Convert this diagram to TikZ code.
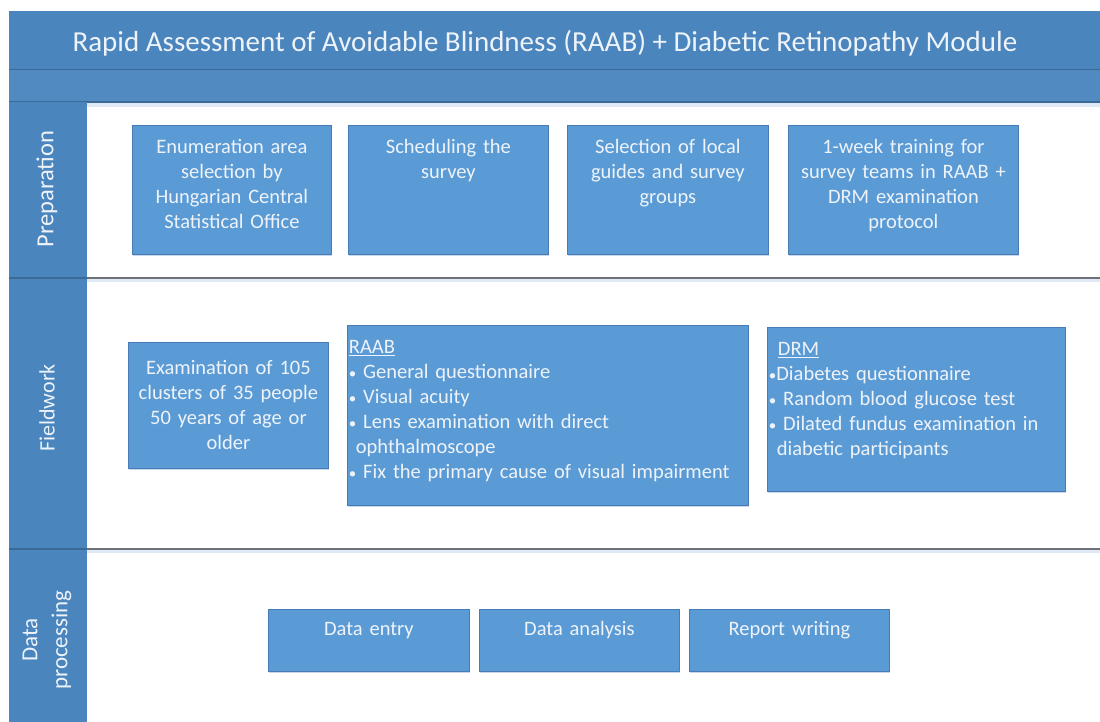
\documentclass[tikz,border=0pt]{standalone}
\usepackage{fontspec}
\setmainfont{Carlito}
\usepackage{xcolor}
\usepackage{tikz}
\usetikzlibrary{shadows}
\definecolor{band}{RGB}{74, 133, 189}
\definecolor{bandlight}{RGB}{80, 138, 192}
\definecolor{bandedge}{RGB}{60, 106, 152}
\definecolor{boxfill}{RGB}{91, 155, 213}
\definecolor{boxedge}{RGB}{72, 124, 182}
\definecolor{boxtext}{RGB}{238, 243, 250}
\definecolor{rule}{RGB}{110, 114, 120}
\definecolor{ruleglow}{RGB}{222, 233, 245}
\tikzstyle{stepbox} = [rectangle, draw=boxedge, line width=0.8pt, fill=boxfill, text=boxtext, anchor=north west, inner sep=0pt, font=\fontsize{20.5}{25}\selectfont, drop shadow={shadow xshift=0.6pt, shadow yshift=-1.6pt, fill=boxedge, opacity=0.3}]
\tikzstyle{topbox} = [stepbox, align=center, text height=28pt]
\tikzstyle{listbox} = [stepbox, align=left, inner xsep=1.5pt, text height=28pt]
\tikzstyle{lanelabel} = [rotate=90, text=boxtext, align=center]
\tikzstyle{laneline} = [draw=rule, line width=1.2pt]
\newcommand{\pt}{{\fontsize{15}{15}\selectfont\textbullet}}

\begin{document}
\begin{tikzpicture}[x=1pt, y=-1pt]
    \useasboundingbox (0,0) rectangle (1100,722);

    % Header and lane column
    \fill[band] (9,11) rectangle (1100,70);
    \fill[bandlight] (9,70) rectangle (1100,102);
    \draw[bandedge, line width=1pt] (9,70) -- (1100,70);
    \draw[bandedge, line width=1.2pt] (9,102) -- (1100,102);
    \fill[ruleglow] (87,103) rectangle (1100,107);
    \fill[band] (9,102) rectangle (87,722);
    \node[text=boxtext, font=\fontsize{29}{33}\selectfont, anchor=base] (title) at (545,52) {Rapid Assessment of Avoidable Blindness (RAAB) + Diabetic Retinopathy Module};

    % Lane separators
    \foreach \ly in {278,549} {
        \fill[ruleglow] (87,\ly) rectangle (1100,\ly+4);
        \draw[laneline] (87,\ly) -- (1100,\ly);
        \draw[bandedge, line width=1.2pt] (9,\ly) -- (87,\ly);
    }

    \node[lanelabel, font=\fontsize{24.5}{28}\selectfont] (lprep) at (47,189) {Preparation};
    \node[lanelabel, font=\fontsize{22}{26}\selectfont] (lfield) at (47,408) {Fieldwork};
    \node[lanelabel, font=\fontsize{23}{30}\selectfont] (ldata) at (47,640) {Data\\processing};

    % Preparation
    \node[topbox, text width=199pt, text depth=101pt] (enum) at (132,125) {Enumeration area\\selection by\\Hungarian Central\\Statistical Office};
    \node[topbox, text width=200pt, text depth=101pt] (sched) at (348,125) {Scheduling the\\survey};
    \node[topbox, text width=201pt, text depth=101pt] (guides) at (567,125) {Selection of local\\guides and survey\\groups};
    \node[topbox, text width=230pt, text depth=101pt] (train) at (788,125) {1-week training for\\survey teams in RAAB +\\DRM examination\\protocol};

    % Fieldwork
    \node[stepbox, align=center, text width=200pt, minimum height=126pt] (exam) at (128,342) {Examination of 105\\clusters of 35 people\\50 years of age or\\older};
    \node[listbox, text width=398pt, text depth=152pt] (raab) at (347,325) {\underline{RAAB}\\\pt\ General questionnaire\\\pt\ Visual acuity\\\pt\ Lens examination with direct\\\hspace*{7pt}ophthalmoscope\\\pt\ Fix the primary cause of visual impairment};
    \node[listbox, text width=295pt, text depth=136pt] (drm) at (767,327) {\hspace*{9pt}\underline{DRM}\\\pt Diabetes questionnaire\\\pt\ Random blood glucose test\\\pt\ Dilated fundus examination in\\\hspace*{8pt}diabetic participants};

    % Data processing
    \node[topbox, text width=201pt, text height=26pt, text depth=36pt] (entry) at (268,609) {Data entry};
    \node[topbox, text width=200pt, text height=26pt, text depth=36pt] (analysis) at (479,609) {Data analysis};
    \node[topbox, text width=200pt, text height=26pt, text depth=36pt] (report) at (689,609) {Report writing};
\end{tikzpicture}
\end{document}
